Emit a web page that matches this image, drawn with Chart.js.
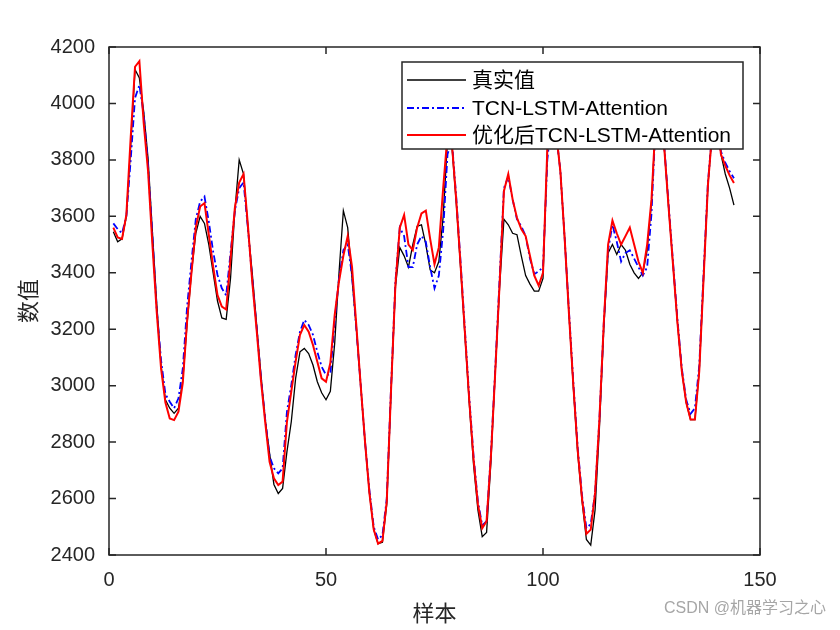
<!DOCTYPE html>
<html>
<head>
<meta charset="utf-8">
<script src="https://cdn.jsdelivr.net/npm/chart.js@4.4.0/dist/chart.umd.min.js"></script>
<style>
  html, body { margin: 0; padding: 0; background: #fff; }
  canvas { display: block; }
</style>
</head>
<body>
<canvas id="chart" width="840" height="630"></canvas>
<script>
// sample index 1..144
const samples = Array.from({ length: 144 }, (_, i) => i + 1);

const actual = [
  3545, 3510, 3520, 3600, 3850, 4120, 4090, 3970, 3805, 3545,
  3290, 3070, 2950, 2920, 2902, 2920, 3020, 3220, 3400, 3540,
  3600, 3575, 3500, 3400, 3300, 3240, 3235, 3380, 3620, 3800,
  3750, 3560, 3400, 3220, 3040, 2880, 2760, 2650, 2618, 2636,
  2766, 2872, 3026, 3120, 3132, 3114, 3073, 3014, 2975, 2950,
  2980, 3150, 3400, 3620, 3560, 3380, 3200, 3000, 2800, 2620,
  2490, 2440, 2445, 2580, 2980, 3350, 3490, 3460, 3420, 3500,
  3565, 3570, 3500, 3410, 3400, 3440, 3600, 3870, 3850, 3650,
  3420, 3180, 2940, 2720, 2560, 2465, 2480, 2730, 3050, 3350,
  3590, 3570, 3540, 3535, 3460, 3390, 3360, 3335, 3335, 3380,
  3830, 3960, 3900, 3760, 3520, 3250, 2990, 2760, 2590, 2455,
  2435, 2560, 2850, 3200, 3470, 3500, 3465, 3500, 3480, 3430,
  3400, 3380, 3400, 3480, 3650, 3950, 3950, 3830, 3620, 3420,
  3220, 3050, 2940, 2880, 2880, 3050, 3380, 3710, 3900, 3950,
  3820, 3750, 3700, 3640
];

const tcnLstmAtt = [
  3575, 3555, 3540, 3600, 3800, 4020, 4065, 3960, 3780, 3530,
  3270, 3090, 2970, 2943, 2920, 2955, 3060, 3280, 3440, 3590,
  3652, 3670, 3581, 3475, 3392, 3345, 3320, 3470, 3620, 3700,
  3720, 3560, 3380, 3210, 3030, 2880, 2750, 2707, 2689, 2707,
  2908, 3002, 3109, 3191, 3233, 3215, 3180, 3120, 3067, 3038,
  3040, 3230, 3380, 3480, 3500, 3390, 3200, 3000, 2800, 2630,
  2500, 2455, 2470, 2600, 3000, 3370, 3560, 3530, 3420, 3420,
  3500, 3530, 3510, 3420, 3345, 3390, 3550, 3820, 3870, 3670,
  3440, 3200, 2960, 2750, 2590, 2505, 2520, 2760, 3060, 3380,
  3700, 3740, 3660, 3590, 3565, 3530, 3450, 3395, 3405, 3420,
  3800, 3950, 3900, 3760, 3520, 3260, 3010, 2780, 2610, 2495,
  2510, 2620, 2880, 3220, 3480, 3570, 3510, 3440, 3470, 3480,
  3450, 3420, 3390, 3420, 3610, 3950, 3950, 3840, 3630, 3430,
  3230, 3060, 2950, 2900, 2920, 3070, 3400, 3720, 3900, 3950,
  3830, 3790, 3760, 3735
];

const optimized = [
  3560, 3525, 3520, 3605, 3880, 4130, 4150, 3930, 3760, 3500,
  3260, 3060, 2940, 2884, 2878, 2908, 3010, 3230, 3400, 3560,
  3635, 3647, 3534, 3422, 3321, 3280, 3270, 3450, 3630, 3720,
  3750, 3570, 3370, 3200, 3020, 2870, 2730, 2672, 2648, 2660,
  2872, 2979, 3085, 3180, 3215, 3191, 3144, 3085, 3026, 3014,
  3080, 3250, 3370, 3460, 3530, 3420, 3210, 3000, 2800, 2620,
  2490, 2440, 2450, 2590, 2990, 3360, 3560, 3605, 3500, 3480,
  3560, 3610, 3620, 3520, 3430, 3490, 3700, 3890, 3860, 3660,
  3430, 3190, 2950, 2740, 2580, 2495, 2520, 2750, 3050, 3360,
  3690, 3750, 3660, 3595, 3555, 3530, 3460, 3390, 3355, 3400,
  3840, 3970, 3900, 3760, 3520, 3250, 3000, 2770, 2600, 2475,
  2490, 2620, 2880, 3220, 3500, 3585, 3540, 3500, 3530, 3560,
  3500, 3440, 3400, 3500, 3660, 3950, 3950, 3830, 3620, 3420,
  3220, 3050, 2940, 2880, 2880, 3050, 3380, 3710, 3900, 3960,
  3820, 3780, 3745, 3718
];

const seriesNames = ['真实值', 'TCN-LSTM-Attention', '优化后TCN-LSTM-Attention'];
const xAxisTitle = '样本';
const yAxisTitle = '数值';
const watermark = 'CSDN @机器学习之心';

const axisColor = '#262626';
const latin = '"Liberation Sans", Arial, sans-serif';
const cjk = '"Liberation Sans", "Noto Sans CJK SC", sans-serif';

// MATLAB style box, inward ticks and an opaque legend on top of the lines
const matlabFrame = {
  id: 'matlabFrame',
  afterDatasetsDraw(chart) {
    const { ctx, chartArea: a, scales: { x, y } } = chart;
    ctx.save();
    ctx.strokeStyle = axisColor;
    ctx.lineWidth = 1.5;
    ctx.strokeRect(a.left, a.top, a.right - a.left, a.bottom - a.top);
    ctx.beginPath();
    x.ticks.forEach(t => {
      const px = x.getPixelForValue(t.value);
      ctx.moveTo(px, a.bottom); ctx.lineTo(px, a.bottom - 7);
      ctx.moveTo(px, a.top); ctx.lineTo(px, a.top + 7);
    });
    y.ticks.forEach(t => {
      const py = y.getPixelForValue(t.value);
      ctx.moveTo(a.left, py); ctx.lineTo(a.left + 7, py);
      ctx.moveTo(a.right, py); ctx.lineTo(a.right - 7, py);
    });
    ctx.stroke();

    // legend box
    const bw = 341, bh = 87;
    const bx = a.right - 17 - bw, by = a.top + 15;
    ctx.fillStyle = '#fff';
    ctx.fillRect(bx, by, bw, bh);
    ctx.strokeRect(bx, by, bw, bh);
    const rows = [18, 46, 73];
    chart.data.datasets.forEach((ds, i) => {
      const ry = by + rows[i];
      ctx.beginPath();
      ctx.strokeStyle = ds.borderColor;
      ctx.lineWidth = ds.borderWidth;
      ctx.setLineDash(ds.borderDash || []);
      ctx.moveTo(bx + 5, ry);
      ctx.lineTo(bx + 64, ry);
      ctx.stroke();
      ctx.setLineDash([]);
      ctx.fillStyle = '#000';
      ctx.font = '21px ' + cjk;
      ctx.textBaseline = 'middle';
      ctx.textAlign = 'left';
      ctx.fillText(ds.label, bx + 70, ry + 1);
    });
    ctx.restore();
  },
  afterDraw(chart) {
    const { ctx } = chart;
    ctx.save();
    ctx.fillStyle = '#a6a6a6';
    ctx.font = '16px ' + cjk;
    ctx.textAlign = 'right';
    ctx.textBaseline = 'middle';
    ctx.fillText(watermark, 826, 609);
    ctx.restore();
  }
};

new Chart(document.getElementById('chart'), {
  type: 'line',
  data: {
    labels: samples,
    datasets: [
      {
        label: seriesNames[0],
        data: actual,
        borderColor: '#000000',
        borderWidth: 1.3,
        order: 3
      },
      {
        label: seriesNames[1],
        data: tcnLstmAtt,
        borderColor: '#0000ff',
        borderWidth: 1.8,
        borderDash: [7, 3, 2, 3],
        order: 2
      },
      {
        label: seriesNames[2],
        data: optimized,
        borderColor: '#ff0000',
        borderWidth: 2,
        order: 1
      }
    ]
  },
  options: {
    responsive: false,
    animation: false,
    elements: { point: { radius: 0 }, line: { tension: 0, fill: false } },
    layout: { padding: { left: 0, right: 80, top: 47, bottom: 0 } },
    plugins: { legend: { display: false }, tooltip: { enabled: false } },
    scales: {
      x: {
        type: 'linear',
        min: 0,
        max: 150,
        grid: { display: false, drawTicks: false },
        border: { display: false },
        ticks: { stepSize: 50, color: axisColor, font: { family: latin, size: 20 }, padding: 13, maxRotation: 0,
                 callback: v => String(v) },
        title: { display: true, text: xAxisTitle, color: axisColor, font: { family: cjk, size: 22 }, padding: { top: 0, bottom: 2 } },
        afterFit(s) { s.height = 75; s.paddingLeft = 0; s.paddingRight = 0; }
      },
      y: {
        min: 2400,
        max: 4200,
        grid: { display: false, drawTicks: false },
        border: { display: false },
        ticks: { stepSize: 200, color: axisColor, font: { family: latin, size: 20 }, padding: 14,
                 callback: v => String(v) },
        title: { display: true, text: yAxisTitle, color: axisColor, font: { family: cjk, size: 22 }, padding: { top: 17, bottom: 0 } },
        afterFit(s) { s.width = 109; s.paddingTop = 0; s.paddingBottom = 0; }
      }
    }
  },
  plugins: [matlabFrame]
});
</script>
</body>
</html>
